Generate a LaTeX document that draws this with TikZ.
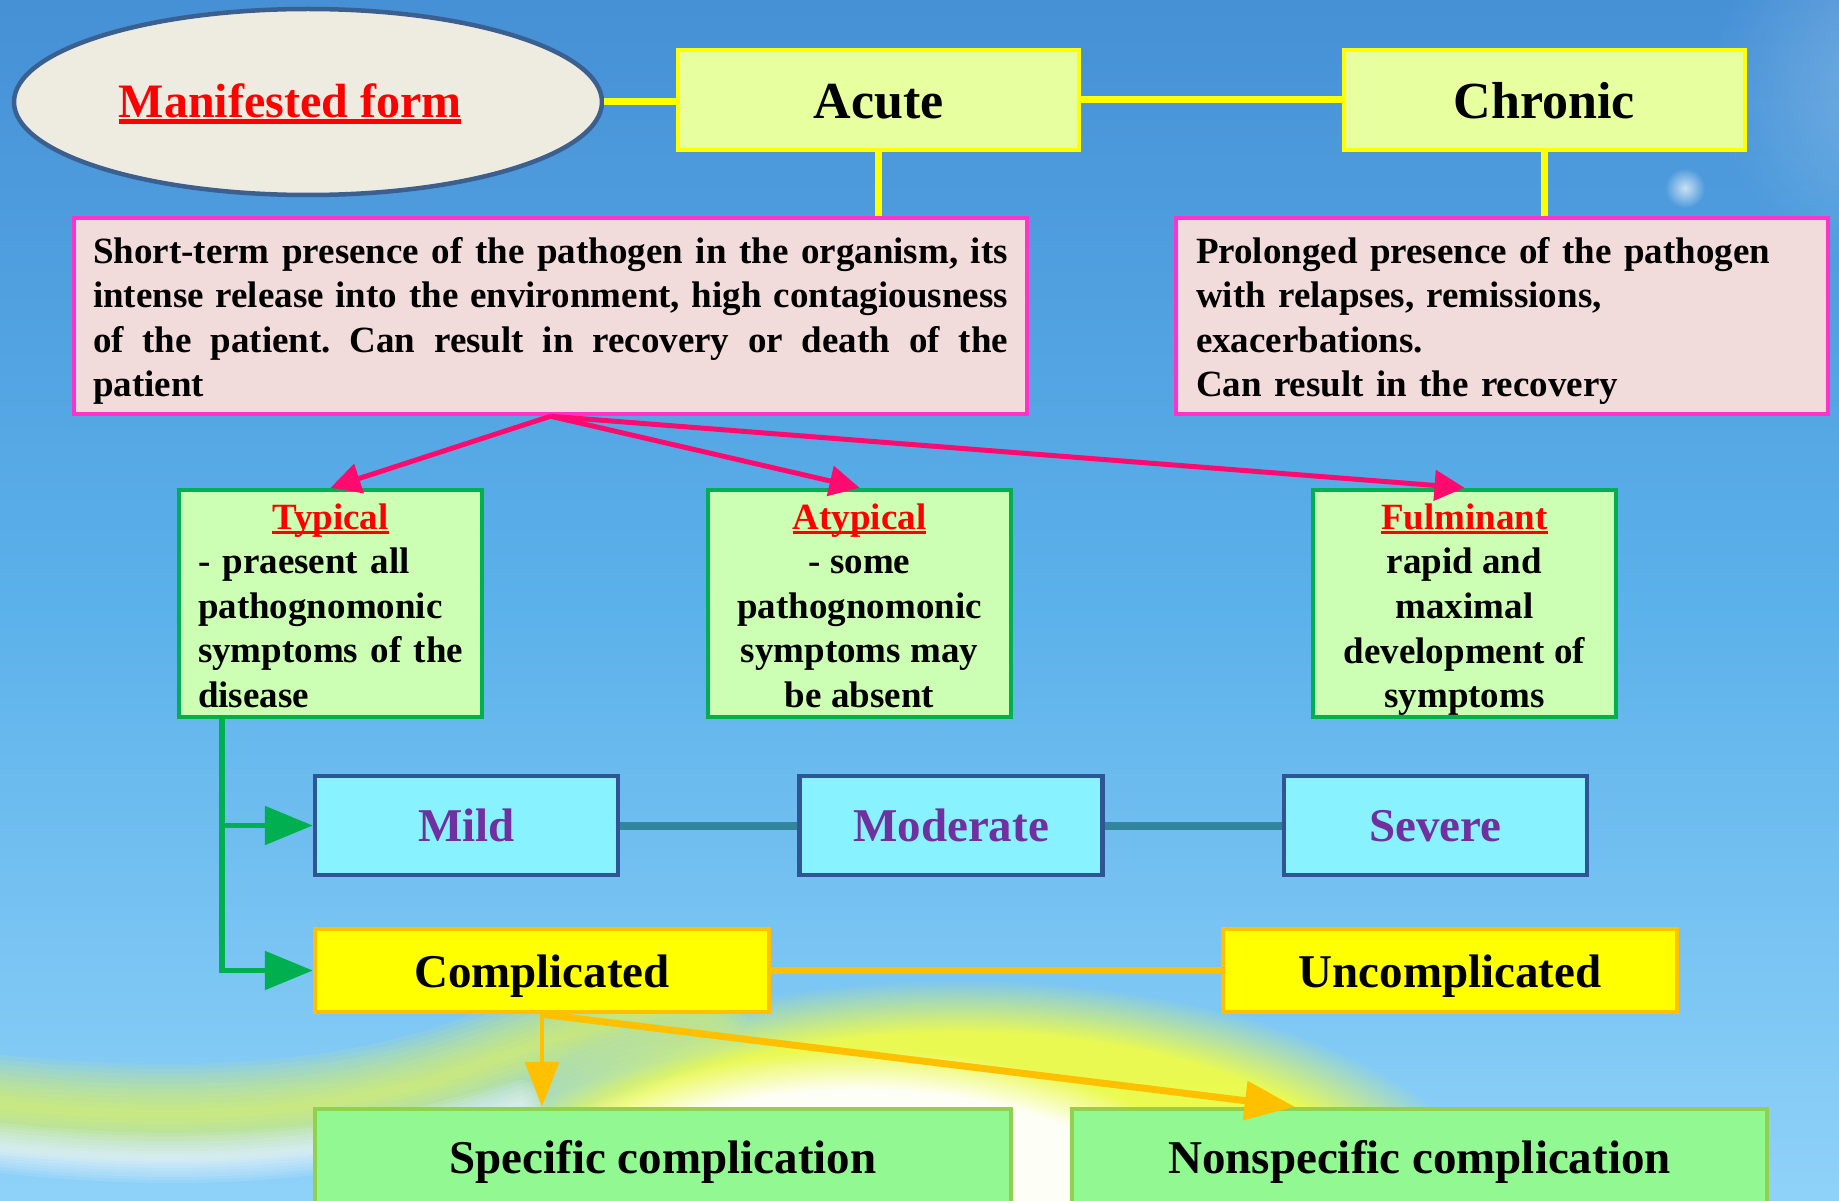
\documentclass[tikz,border=0pt]{standalone}
\usepackage{fontspec}
\setmainfont{Liberation Serif}
\usetikzlibrary{arrows.meta,shapes.geometric,fadings,calc}
\tikzfading[name=myfadeout, inner color=transparent!0, outer color=transparent!100]
\definecolor{bgtop}{HTML}{4690D6}
\definecolor{bgmid}{HTML}{5BB1EA}
\definecolor{bgbot}{HTML}{8FD2F9}
\definecolor{ellfill}{HTML}{EEEBE0}
\definecolor{ellline}{HTML}{3B5F8E}
\definecolor{ylw}{HTML}{FFFF00}
\definecolor{sunyl}{HTML}{F6FF40}
\definecolor{acfill}{HTML}{E8FFA0}
\definecolor{pkfill}{HTML}{F2DCDB}
\definecolor{pkline}{HTML}{FF33CC}
\definecolor{pkarrow}{HTML}{FF0A6E}
\definecolor{gnfill}{HTML}{CCFFB3}
\definecolor{gnline}{HTML}{00B050}
\definecolor{cyfill}{HTML}{88F2FF}
\definecolor{cyline}{HTML}{2F5597}
\definecolor{teal2}{HTML}{31859C}
\definecolor{purp}{HTML}{7030A0}
\definecolor{orng}{HTML}{FFC000}
\definecolor{lgfill}{HTML}{92F892}
\definecolor{lgline}{HTML}{92D050}
\newsavebox\ulbox
\newcommand\myul[3]{\sbox\ulbox{#3}\rlap{\rule[-#1]{\wd\ulbox}{#2}}\usebox\ulbox}
\frenchspacing
\tikzset{
  every node/.style={font=\bfseries},
  ybox/.style={draw=ylw, fill=acfill, line width=4.5pt, inner sep=0pt, minimum width=401, minimum height=100, text height=37pt, text depth=0pt, font=\bfseries\fontsize{52}{60}\selectfont},
  pkbox/.style={draw=pkline, fill=pkfill, line width=4.5pt, inner sep=0pt, minimum height=196, font=\bfseries\fontsize{37}{44.6}\selectfont},
  gnbox/.style={draw=gnline, fill=gnfill, line width=4.5pt, inner sep=0pt, minimum width=303, minimum height=227, font=\bfseries\fontsize{37}{44.6}\selectfont},
  cybox/.style={draw=cyline, fill=cyfill, line width=4.5pt, inner sep=0pt, minimum width=303, minimum height=99, text height=32pt, text depth=0pt, text=purp, font=\bfseries\fontsize{47}{54}\selectfont},
  orbox/.style={draw=orng, fill=ylw, line width=4.5pt, inner sep=0pt, minimum width=454, minimum height=83, text height=33pt, text depth=0pt, font=\bfseries\fontsize{47}{54}\selectfont},
  lgbox/.style={draw=lgline, fill=lgfill, line width=4.5pt, inner sep=0pt, minimum width=696, minimum height=96, text height=32pt, text depth=0pt, font=\bfseries\fontsize{47}{54}\selectfont},
  redt/.style={text=red},
  yline/.style={draw=ylw, line width=7pt},
  parrow/.style={draw=pkarrow, line width=5pt, -{Triangle[length=30pt,width=30pt]}},
  garrow/.style={draw=gnline, line width=5.5pt, -{Triangle[length=48pt,width=38pt]}},
  tline/.style={draw=teal2, line width=8pt},
  oline/.style={draw=orng, line width=7pt},
  oarrowthin/.style={draw=orng, line width=3.5pt, -{Triangle[length=45pt,width=34pt]}},
  oarrowthick/.style={draw=orng, line width=7pt, -{Triangle[length=50pt,width=38pt]}},
}
\begin{document}
\begin{tikzpicture}[x=1pt,y=-1pt]
\useasboundingbox (0,0) rectangle (1839,1201);
% background
\shade[top color=bgtop, bottom color=bgbot, middle color=bgmid] (0,0) rectangle (1839,1201);
\fill[white, opacity=0.25, path fading=myfadeout] (1900,80) circle (190);
\fill[white, opacity=0.7, path fading=myfadeout] (1685,188) circle (20);
% sun glow
\fill[sunyl, opacity=0.9, path fading=circle with fuzzy edge 20 percent] (960,1250) ellipse (560 and 270);
\fill[white, opacity=0.95, path fading=circle with fuzzy edge 20 percent] (860,1250) ellipse (400 and 200);
% swooshes (soft layered strokes)
\foreach \w in {100,90,...,10}
  \draw[sunyl, line width=\w pt, opacity=0.09, line cap=round]
    (-60,1098) .. controls (150,1125) and (330,1120) .. (480,1065) .. controls (560,1035) and (620,1015) .. (700,1000);
\foreach \w in {50,44,...,8}
  \draw[white, line width=\w pt, opacity=0.1, line cap=round]
    (-60,1140) .. controls (150,1170) and (330,1165) .. (520,1105);

% nodes
\node[ellipse, draw=ellline, fill=ellfill, line width=4.5pt, minimum width=588, minimum height=186, inner sep=0pt] (ell) at (308,102) {};
\node[redt, font=\bfseries\fontsize{48}{56}\selectfont] (mf) at (290,104) {\myul{6pt}{4.5pt}{Manifested form}};
\node[ybox] (acute) at (878.5,100) {Acute};
\node[ybox] (chronic) at (1544.5,100) {Chronic};
\node[pkbox, minimum width=953, text width=915pt, align=justify] (pink1) at (550.5,316)
 {\rule{0pt}{36pt}Short-term presence of the pathogen in the organism, its\linebreak intense release into the environment, high contagiousness\linebreak of the patient. Can result in recovery or death of the\linebreak patient};
\node[pkbox, minimum width=652, text width=612pt, align=left] (pink2) at (1502,316)
 {\rule{0pt}{36pt}Prolonged presence of the pathogen\\with relapses, remissions,\\exacerbations.\\Can result in the recovery};
\node[gnbox, text width=265pt, align=left] (typical) at (330.5,603.5)
 {\rule{0pt}{30pt}\makebox[265pt][c]{\color{red}\myul{5pt}{3.5pt}{Typical}}\\- praesent all\\pathognomonic\\\mbox{symptoms of the}\\disease};
\node[gnbox, align=center] (atypical) at (859.5,603.5)
 {\rule{0pt}{30pt}{\color{red}\myul{5pt}{3.5pt}{Atypical}}\\- some\\pathognomonic\\symptoms may\\be absent};
\node[gnbox, align=center] (fulminant) at (1464.5,603.5)
 {\rule{0pt}{38pt}{\color{red}\myul{5pt}{3.5pt}{Fulminant}}\\rapid and\\maximal\\development of\\symptoms};
\node[cybox] (mild) at (466.5,825.5) {Mild};
\node[cybox] (moderate) at (951,825.5) {Moderate};
\node[cybox] (severe) at (1435.5,825.5) {Severe};
\node[orbox] (complicated) at (542,970.5) {Complicated};
\node[orbox] (uncomplicated) at (1450,970.5) {Uncomplicated};
\node[lgbox] (specific) at (663,1157) {Specific complication};
\node[lgbox, minimum width=695] (nonspecific) at (1419.5,1157) {Nonspecific complication};

% connectors
\draw[yline] (ell.east) -- (ell.east -| acute.west);
\draw[yline] (acute.east) -- (chronic.west);
\draw[yline] (acute.south) -- (acute.south |- pink1.north);
\draw[yline] (chronic.south) -- (chronic.south |- pink2.north);
\draw[parrow] (pink1.south) -- (typical.north);
\draw[parrow] (pink1.south) -- (atypical.north);
\draw[parrow] (pink1.south) -- (fulminant.north);
\coordinate (gstart) at ($(typical.south west)+(45,0)$);
\draw[garrow] (gstart) -- (gstart |- complicated.west) -- (complicated.west);
\draw[garrow] (gstart |- mild.west) -- (mild.west);
\draw[tline] (mild.east) -- (moderate.west);
\draw[tline] (moderate.east) -- (severe.west);
\draw[oline] (complicated.east) -- (uncomplicated.west);
\coordinate (nsarr) at ($(nonspecific.north west)+(225,0)$);
\draw[oarrowthin] (complicated.south) -- (complicated.south |- specific.north);
\draw[oarrowthick] (complicated.south) -- (nsarr);
\end{tikzpicture}
\end{document}
